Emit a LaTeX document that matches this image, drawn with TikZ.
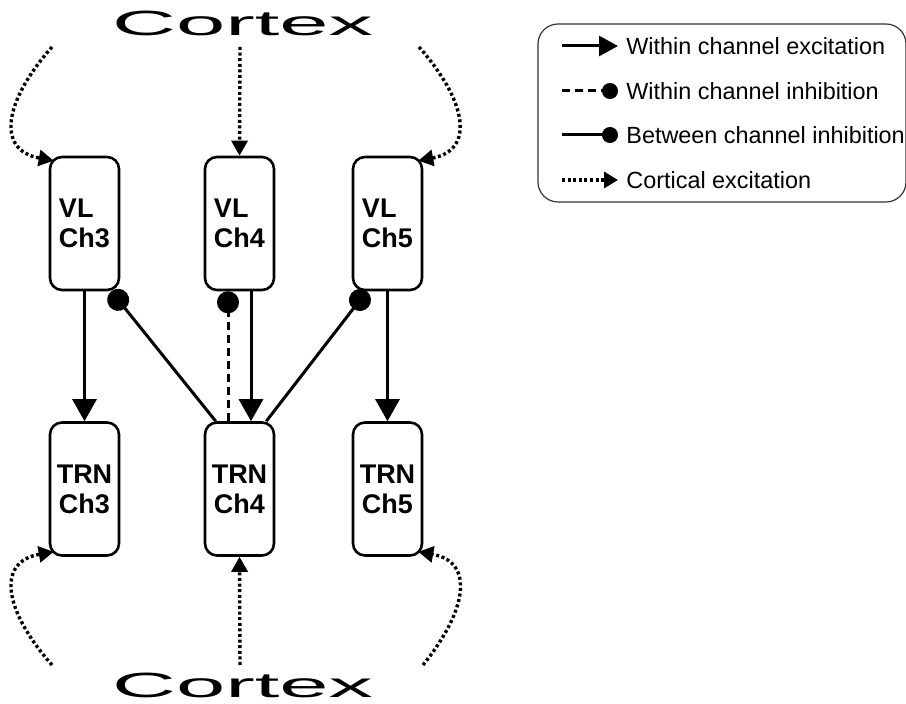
\documentclass[tikz,border=0pt]{standalone}
\usepackage{fontspec}
\setmainfont{Liberation Sans}
\usetikzlibrary{arrows.meta,calc,positioning}

\begin{document}
\begin{tikzpicture}[
    % GLOBAL CFG
    x=0.5pt, y=-0.5pt,
    font=\fontsize{11.7}{14}\selectfont,
    >={Triangle[length=11pt,width=12pt]},
    % Styles
    cell/.style={% For the VL and TRN boxes
        rectangle,
        rounded corners=6pt,
        draw,
        line width=1.3pt,
        minimum width=34.5pt,
        minimum height=66.5pt,
        inner sep=0pt,
        font=\bfseries\fontsize{13.5}{15}\selectfont,
        },
    cortex/.style={% For the big stretched labels
        font=\fontsize{17.5}{20}\selectfont,
        anchor=base,
        inner sep=0pt,
        },
    exc/.style={% Within channel excitation
        ->,
        line width=1.5pt,
        },
    inh/.style={% Within channel inhibition
        -{Circle[length=11pt]},
        line width=1.5pt,
        dash pattern=on 4pt off 2.5pt,
        },
    binh/.style={% Between channel inhibition
        -{Circle[length=11pt]},
        line width=1.5pt,
        },
    cort/.style={% Cortical excitation
        -{Triangle[length=7.5pt,width=8pt]},
        line width=1.7pt,
        dash pattern=on 1.5pt off 1.3pt,
        },
    legtext/.style={% legend labels
        anchor=base west,
        inner sep=0pt,
        },
    ]
    \useasboundingbox (0,0) rectangle (906,704);

    % Cortex labels
    \node[cortex] (ctop) at (242.5,36) {\scalebox{2.53}[1]{Cortex}};
    \node[cortex] (cbot) at (242.5,698) {\scalebox{2.53}[1]{Cortex}};

    % Draw the cells:
    \node[cell, align=left] (vl3) at (84.5,223.5) {VL\\Ch3};
    \node[cell, align=left] (vl4) at (239.5,223.5) {VL\\Ch4};
    \node[cell, align=left] (vl5) at (387.5,223.5) {VL\\Ch5};
    \node[cell, align=center] (trn3) at (84.5,489) {TRN\\Ch3};
    \node[cell, align=center] (trn4) at (239.5,489) {TRN\\Ch4};
    \node[cell, align=center] (trn5) at (387.5,489) {TRN\\Ch5};

    % VL -> TRN
    \draw[exc] (vl3) -- (trn3);
    \draw[exc] ($(vl4.south)+(11.5,0)$) -- ($(trn4.north)+(11.5,0)$);
    \draw[exc] (vl5) -- (trn5);

    % TRN -> VL inhibition
    \draw[inh] ($(trn4.north)+(-11.5,0)$) -- ($(vl4.south)+(-11.5,0)$);
    \draw[binh] ($(trn4.north west)+(12,0)$) -- ($(vl3.south east)+(-9,0)$);
    \draw[binh] ($(trn4.north east)+(-9,0)$) -- ($(vl5.south west)+(15,0)$);

    % Cortical inputs
    \coordinate (t3) at (52,47);
    \coordinate (t4) at (240,47);
    \coordinate (t5) at (419,47);
    \coordinate (b3) at (52,665);
    \coordinate (b4) at (240,665);
    \coordinate (b5) at (423,665);
    \draw[cort] (t3) .. controls (5,100) and (-5,150) .. ($(vl3.north west)+(5,5)$);
    \draw[cort] (t4) -- (vl4.north);
    \draw[cort] (t5) .. controls (466,100) and (476,150) .. ($(vl5.north east)+(-5,5)$);
    \draw[cort] (b3) .. controls (5,612) and (-5,562) .. ($(trn3.south west)+(5,-5)$);
    \draw[cort] (b4) -- (trn4.south);
    \draw[cort] (b5) .. controls (466,612) and (476,562) .. ($(trn5.south east)+(-5,-5)$);

    % Legend
    \draw[line width=0.6pt, rounded corners=10pt, black!80] (538,24) rectangle (906,202);
    \coordinate (l1a) at (562,46);  \coordinate (l1b) at (618,46);
    \coordinate (l2a) at (562,91);  \coordinate (l2b) at (618,91);
    \coordinate (l3a) at (562,135); \coordinate (l3b) at (618,135);
    \coordinate (l4a) at (562,180); \coordinate (l4b) at (618,180);
    \draw[exc, -{Triangle[length=9.5pt,width=10pt]}] (l1a) -- (l1b);
    \draw[inh, -{Circle[length=8pt]}] (l2a) -- (l2b);
    \draw[binh, -{Circle[length=8pt]}] (l3a) -- (l3b);
    \draw[cort, -{Triangle[length=7pt,width=8pt]}] (l4a) -- (l4b);
    \node[legtext] (lt1) at (626,55) {Within channel excitation};
    \node[legtext] (lt2) at (626,100) {Within channel inhibition};
    \node[legtext] (lt3) at (626,144) {Between channel inhibition};
    \node[legtext] (lt4) at (626,189) {Cortical excitation};
\end{tikzpicture}
\end{document}
